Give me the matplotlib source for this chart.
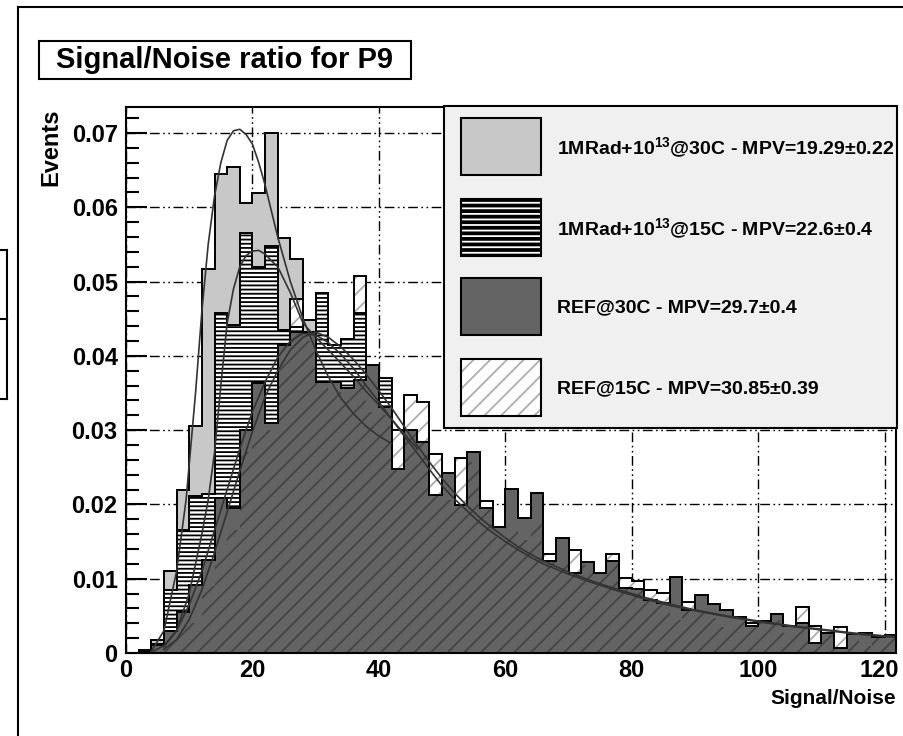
import numpy as np
import matplotlib
matplotlib.use('Agg')
import matplotlib.pyplot as plt
from matplotlib.patches import Rectangle
from matplotlib.lines import Line2D

plt.rcParams['font.family'] = ['Liberation Sans', 'DejaVu Sans']
plt.rcParams['font.weight'] = 'bold'
plt.rcParams['mathtext.fontset'] = 'custom'
plt.rcParams['mathtext.rm'] = 'Liberation Sans:bold'
plt.rcParams['mathtext.it'] = 'Liberation Sans:bold'
plt.rcParams['mathtext.bf'] = 'Liberation Sans:bold'
plt.rcParams['hatch.linewidth'] = 1.3

# ---- data: S/N histograms, bin width 2, from 0 to 122 ----
edges = np.arange(0, 124, 2)
rad_30c = [0.0, 0.0004, 0.0017, 0.011, 0.022, 0.0305, 0.0517, 0.0645, 0.0654, 0.0606,
           0.0619, 0.070, 0.0558, 0.053, 0.0448, 0.041, 0.038, 0.034, 0.030, 0.027,
           0.024, 0.0215, 0.0195, 0.0175, 0.016, 0.0145, 0.013, 0.012, 0.011, 0.010,
           0.0092, 0.0085, 0.0078, 0.0072, 0.0066, 0.0061, 0.0056, 0.0052, 0.0048, 0.0045,
           0.0042, 0.0039, 0.0036, 0.0034, 0.0032, 0.0030, 0.0028, 0.0026, 0.0025, 0.0023,
           0.0020, 0.0019, 0.0018, 0.0017, 0.0010, 0.0016, 0.0005, 0.0015, 0.0007, 0.0013,
           0.0012]
rad_15c = [0.0, 0.0002, 0.0012, 0.0085, 0.0166, 0.0212, 0.0214, 0.0458, 0.0442, 0.0565,
           0.052, 0.0548, 0.0435, 0.0439, 0.041, 0.0485, 0.0415, 0.0423, 0.0458, 0.035,
           0.037, 0.022, 0.024, 0.022, 0.018, 0.017, 0.015, 0.014, 0.013, 0.012,
           0.011, 0.010, 0.0095, 0.009, 0.0085, 0.008, 0.0075, 0.007, 0.0068, 0.0062,
           0.006, 0.0057, 0.0054, 0.0050, 0.0040, 0.0042, 0.0040, 0.0032, 0.0030, 0.0030,
           0.0030, 0.0032, 0.0025, 0.0025, 0.0012, 0.0018, 0.0006, 0.0018, 0.0008, 0.0016,
           0.0017]
ref_30c = [0.0, 0.0002, 0.0011, 0.003, 0.0055, 0.0091, 0.0125, 0.0209, 0.0195, 0.030,
           0.0363, 0.031, 0.0415, 0.0432, 0.0432, 0.0365, 0.0365, 0.0357, 0.0367, 0.0388,
           0.0331, 0.0248, 0.030, 0.0284, 0.0213, 0.0242, 0.0199, 0.027, 0.0195, 0.017,
           0.0221, 0.0182, 0.0215, 0.0124, 0.0155, 0.0108, 0.0122, 0.0108, 0.0124, 0.0087,
           0.0086, 0.0071, 0.0067, 0.0102, 0.0058, 0.0078, 0.0066, 0.0058, 0.0049, 0.0036,
           0.0043, 0.0052, 0.0036, 0.0040, 0.0013, 0.0027, 0.0007, 0.0025, 0.0027, 0.0022,
           0.0024]
ref_15c = [0.0, 0.0002, 0.0006, 0.002, 0.0045, 0.004, 0.009, 0.0136, 0.0165, 0.027,
           0.0293, 0.030, 0.040, 0.0476, 0.042, 0.040, 0.0355, 0.035, 0.0507, 0.0325,
           0.032, 0.030, 0.0347, 0.0338, 0.0268, 0.0206, 0.0262, 0.0257, 0.0205, 0.0156,
           0.017, 0.0152, 0.0176, 0.0133, 0.0124, 0.0139, 0.0118, 0.0102, 0.0133, 0.0101,
           0.0097, 0.0085, 0.0081, 0.0044, 0.0069, 0.0054, 0.0047, 0.0035, 0.0044, 0.0040,
           0.0040, 0.0045, 0.0027, 0.0062, 0.0037, 0.0024, 0.0035, 0.0022, 0.0009, 0.0020,
           0.0022]

# ---- fitted curves, points ----
fit_rad30_x = [4, 6, 8, 9.5, 11, 12, 13, 14, 15, 16, 17, 18, 19, 20, 21, 22, 23, 24, 26,
               28, 30, 32, 34, 36, 38, 40, 42]
fit_rad30_y = [0.0002, 0.003, 0.011, 0.0206, 0.035, 0.046, 0.055, 0.0615, 0.066, 0.069,
               0.0703, 0.0705, 0.0698, 0.0685, 0.066, 0.063, 0.0595, 0.056, 0.050, 0.045,
               0.0408, 0.0372, 0.0343, 0.0322, 0.0305, 0.0292, 0.0282]
fit_rad15_x = [6, 8, 10, 12, 13, 14, 15, 16, 17, 18, 19, 20, 21, 22, 23, 24, 26, 28, 30,
               32, 34, 36, 38, 40, 42, 44, 46]
fit_rad15_y = [0.0008, 0.003, 0.008, 0.016, 0.0206, 0.027, 0.036, 0.0444, 0.049, 0.052,
               0.0535, 0.0541, 0.0542, 0.0537, 0.0528, 0.052, 0.0485, 0.0444, 0.0425,
               0.0408, 0.039, 0.0372, 0.0352, 0.0334, 0.0315, 0.0295, 0.0276]
fit_ref30_x = [4, 6, 8, 10, 12, 14, 16, 18, 20, 22, 24, 26, 28, 30, 32, 34, 36, 38, 40, 42,
               44, 46, 48, 50, 52, 54, 56, 58, 60, 62, 64, 66, 70, 74, 78, 82, 86, 90, 95,
               100, 105, 110, 115, 120, 122]
fit_ref30_y = [0.0001, 0.001, 0.003, 0.0065, 0.011, 0.0165, 0.022, 0.0275, 0.0325, 0.0365,
               0.0398, 0.042, 0.043, 0.0428, 0.0418, 0.0402, 0.0383, 0.036, 0.0338, 0.0315,
               0.0292, 0.027, 0.0247, 0.0225, 0.0207, 0.0191, 0.0175, 0.0162, 0.015, 0.0139,
               0.0129, 0.012, 0.0106, 0.0094, 0.0083, 0.0073, 0.0064, 0.0057, 0.0049,
               0.0042, 0.0036, 0.0031, 0.0026, 0.0022, 0.0021]
fit_ref15_x = [6, 8, 10, 12, 14, 16, 18, 20, 22, 24, 26, 28, 30, 32, 34, 36, 38, 40, 42,
               44, 46, 48, 50, 52, 54, 56, 58, 60, 62, 64, 66, 70, 74, 78, 82, 86, 90, 95,
               100, 105, 110, 115, 120, 122]
fit_ref15_y = [0.0005, 0.0018, 0.0045, 0.0085, 0.0135, 0.019, 0.0245, 0.0298, 0.0345,
               0.038, 0.0408, 0.0425, 0.0432, 0.0425, 0.0412, 0.0395, 0.0375, 0.0353, 0.033,
               0.0305, 0.028, 0.0257, 0.0235, 0.0215, 0.0198, 0.0182, 0.0168, 0.0155,
               0.0143, 0.0133, 0.0124, 0.0109, 0.0096, 0.0085, 0.0075, 0.0066, 0.0058,
               0.005, 0.0043, 0.0037, 0.0032, 0.0027, 0.0023, 0.0022]

labels = ['1MRad+10$^{13}$@30C - MPV=19.29\u00b10.22',
          '1MRad+10$^{13}$@15C - MPV=22.6\u00b10.4',
          'REF@30C - MPV=29.7\u00b10.4',
          'REF@15C - MPV=30.85\u00b10.39']
xtick_vals = [0, 20, 40, 60, 80, 100, 120]

LIGHT = '#c8c8c8'
DARK = '#646464'
HATCH_GREY = (0, 0, 0, 0.32)
W, H = 904, 736

fig = plt.figure(figsize=(W / 100, H / 100), dpi=100)
ax = fig.add_axes([126 / W, 1 - 653 / H, 770 / W, 546 / H])
ax.set_xlim(0, 121.8)
ax.set_ylim(0, 0.0735)


def hist(vals, face, hatch=None, hcol='black', z=2, outline=True):
    p = ax.stairs(vals, edges, fill=True, facecolor=face, edgecolor=hcol,
                  hatch=hatch, linewidth=0, zorder=z)
    if outline:
        ax.stairs(vals, edges, fill=False, color='black', lw=1.4, zorder=z + 0.05)
    return p


hist(rad_30c, LIGHT, z=2)
hist(ref_15c, 'white', '//', HATCH_GREY, z=3)
hist(rad_15c, 'white', '----', 'black', z=4)
dark = hist(ref_30c, DARK, z=5)
over = hist(ref_15c, 'none', '//', HATCH_GREY, z=6, outline=False)
over.set_clip_path(dark)

for fx, fy in [(fit_rad30_x, fit_rad30_y), (fit_rad15_x, fit_rad15_y),
               (fit_ref30_x, fit_ref30_y), (fit_ref15_x, fit_ref15_y)]:
    ax.plot(fx, fy, color='#333333', lw=1.2, zorder=8)

# grid, ticks and axis
grid_ls = (0, (7, 2.5, 1.2, 2.5, 1.2, 2.5))
ax.set_xticks(xtick_vals)
ax.set_xticklabels([str(v) for v in xtick_vals[:-1]] + [''])
# last label pushed left so it stays inside the pad, as ROOT does
ax.annotate(str(xtick_vals[-1]), xy=(122.3, 0), xycoords=('data', 'axes fraction'),
            xytext=(0, -4), textcoords='offset points', ha='right', va='top',
            fontsize=17, fontweight='bold', annotation_clip=False)
ax.set_yticks(np.arange(0, 0.0701, 0.01))
ax.set_yticks(np.arange(0, 0.0735, 0.002), minor=True)
ax.set_yticklabels(['0'] + ['%.2f' % v for v in np.arange(0.01, 0.0701, 0.01)])
ax.grid(True, which='major', color='black', lw=1.0, linestyle=grid_ls, zorder=0)
ax.set_axisbelow(True)
ax.tick_params(axis='y', which='major', direction='in', length=15, width=1.5,
               labelsize=17, pad=6)
ax.tick_params(axis='y', which='minor', direction='in', length=9, width=1.5)
ax.tick_params(axis='x', which='both', length=0, labelsize=17, pad=4)
for s in ax.spines.values():
    s.set_linewidth(1.5)
    s.set_zorder(9)

fig.text(51 / W, 1 - 147 / H, 'Events', rotation=90, ha='center', va='center',
         fontsize=17, fontweight='bold')
fig.text(896 / W, 1 - 698 / H, 'Signal/Noise', ha='right', va='center',
         fontsize=15, fontweight='bold')

# legend box
leg = Rectangle((444 / W, 1 - 428 / H), 453 / W, 322 / H, transform=fig.transFigure,
                facecolor='#f0f0f0', edgecolor='black', lw=1.5, zorder=20)
fig.add_artist(leg)
sw_y = [118, 199, 278, 359]
sw_style = [dict(facecolor=LIGHT), dict(facecolor='black', hatch='---', edgecolor='white'),
            dict(facecolor=DARK), dict(facecolor='white', hatch='//', edgecolor=HATCH_GREY)]
for yy, st, lab in zip(sw_y, sw_style, labels):
    fig.add_artist(Rectangle((461 / W, 1 - (yy + 57) / H), 80 / W, 57 / H,
                             transform=fig.transFigure, lw=0, zorder=21, **st))
    fig.add_artist(Rectangle((461 / W, 1 - (yy + 57) / H), 80 / W, 57 / H,
                             transform=fig.transFigure, fill=False, edgecolor='black',
                             lw=1.5, zorder=22))
    t = fig.text(557 / W, 1 - (yy + 30) / H, lab, ha='left', va='center',
                 fontsize=14, fontweight='bold', zorder=23)
    t.set_clip_path(leg)

# title box
fig.add_artist(Rectangle((39 / W, 1 - 79 / H), 372 / W, 38 / H, transform=fig.transFigure,
                         facecolor='white', edgecolor='black', lw=1.5))
fig.text(225 / W, 1 - 60 / H, 'Signal/Noise ratio for P9', ha='center', va='center',
         fontsize=21, fontweight='bold')

# outer frame and remains of a neighbouring pad
frame_lines = [([18, 18], [7, 736]), ([18, 904], [7, 7]),
               ([0, 7], [250, 250]), ([0, 7], [319, 319]), ([0, 7], [399, 399]),
               ([7, 7], [250, 399])]
for xs, ys in frame_lines:
    fig.add_artist(Line2D([x / W for x in xs], [1 - y / H for y in ys],
                          transform=fig.transFigure, color='black', lw=1.5))

fig.savefig('out.png', dpi=100)
